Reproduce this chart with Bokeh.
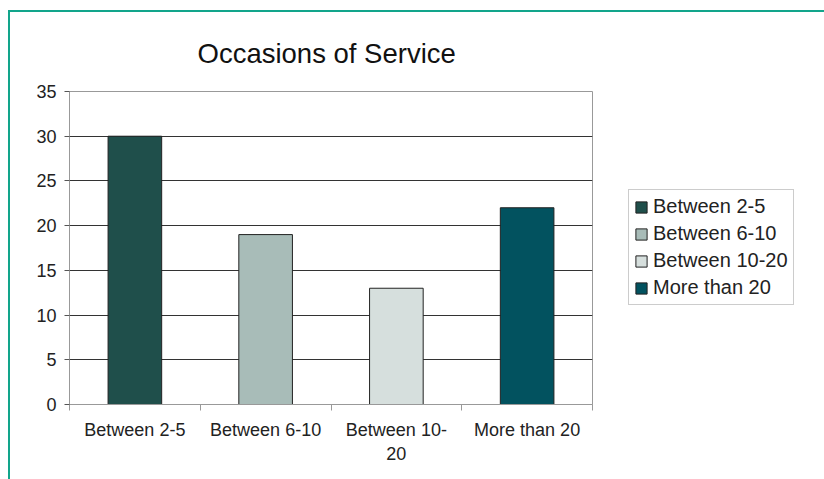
from bokeh.plotting import figure
from bokeh.models import ColumnDataSource, Range1d, FixedTicker, Legend, LegendItem
from bokeh.embed import file_html
from bokeh.resources import INLINE

# data
categories = ["Between 2-5", "Between 6-10", "Between 10-20", "More than 20"]
values = [30, 19, 13, 22]
tick_labels = ["Between 2-5", "Between 6-10", "Between 10-\n20", "More than 20"]
colors = ["#1f4f4b", "#a8bcb8", "#d6dfdd", "#02525f"]
y_ticks = [0, 5, 10, 15, 20, 25, 30, 35]

FONT = "Liberation Sans"

xs = [i + 0.5 for i in range(len(categories))]

p = figure(
    frame_width=523, frame_height=313,
    min_border_left=59, min_border_top=79, min_border_right=230, min_border_bottom=77,
    x_range=Range1d(0, len(categories)), y_range=Range1d(0, 35),
    output_backend="svg", toolbar_location=None,
    title="Occasions of Service",
)
p.styles = {
    "border-left": "2px solid #12a58b",
    "border-top": "2px solid #12a58b",
    "border-right": "2px solid #12a58b",
    "margin-top": "10px",
    "margin-left": "8px",
}

p.title.align = "left"
p.title.text_font = FONT
p.title.text_font_size = "27.5px"
p.title.text_font_style = "normal"
p.title.text_color = "#111111"
p.title.standoff = 45
p.title.offset = 128

p.outline_line_color = "#999999"
p.outline_line_width = 1

renderers = []
for i, c in enumerate(categories):
    r = p.vbar(x=xs[i], top=values[i], width=0.41, bottom=0,
               fill_color=colors[i], line_color="#222222", line_width=1)
    renderers.append(r)

# x axis
xa = p.xaxis[0]
xa.ticker = FixedTicker(ticks=xs, minor_ticks=list(range(len(categories) + 1)))
xa.major_label_overrides = {x: lab for x, lab in zip(xs, tick_labels)}
xa.major_tick_line_color = None
xa.major_tick_out = 0
xa.major_tick_in = 0
xa.minor_tick_line_color = "#999999"
xa.minor_tick_out = 6
xa.minor_tick_in = 0
xa.axis_line_color = "#999999"
xa.major_label_text_font = FONT
xa.major_label_text_font_size = "18px"
xa.major_label_text_color = "#222222"
xa.major_label_standoff = 9

# y axis
ya = p.yaxis[0]
ya.ticker = FixedTicker(ticks=y_ticks, minor_ticks=[])
ya.major_tick_out = 5
ya.major_tick_in = 0
ya.major_tick_line_color = "#555555"
ya.axis_line_color = "#999999"
ya.major_label_text_font = FONT
ya.major_label_text_font_size = "18px"
ya.major_label_text_color = "#222222"
ya.major_label_standoff = 8

p.xgrid.grid_line_color = None
p.ygrid.grid_line_color = "#333333"
p.ygrid.grid_line_width = 1
p.ygrid.ticker = FixedTicker(ticks=y_ticks)

legend = Legend(
    items=[LegendItem(label=c, renderers=[r]) for c, r in zip(categories, renderers)],
    location=(36, 99),
    label_text_font=FONT, label_text_font_size="20px", label_text_color="#222222",
    glyph_width=14, glyph_height=14, label_standoff=5, spacing=4,
    padding=5, margin=0, border_line_color="#999999", border_line_width=1,
    label_height=14,
)
p.add_layout(legend, "right")

open("out.html", "w").write(file_html(p, INLINE))
